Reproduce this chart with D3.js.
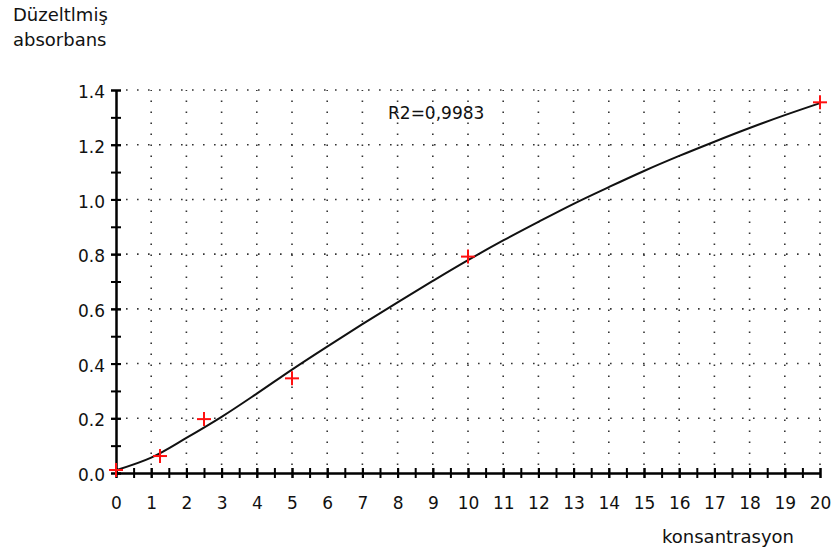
<!DOCTYPE html>
<html>
<head>
<meta charset="utf-8">
<script src="https://cdn.jsdelivr.net/npm/d3@7/dist/d3.min.js"></script>
<style>
  html, body { margin: 0; padding: 0; background: #fff; }
  svg { display: block; }
  text { font-family: "DejaVu Sans", Verdana, sans-serif; fill: #111; }
</style>
</head>
<body>
<svg id="chart" width="833" height="554"></svg>
<script>
// Calibration standards (concentration vs corrected absorbance)
const sampleConc = [0, 1.25, 2.5, 5, 10, 20];
const sampleAbs  = [0.011, 0.062, 0.197, 0.346, 0.791, 1.355];

// Fitted calibration curve, sampled at each integer concentration
const fitConc = [0, 1, 2, 3, 4, 5, 6, 7, 8, 9, 10, 11, 12, 13, 14, 15, 16, 17, 18, 19, 20];
const fitAbs  = [0.010, 0.056, 0.128, 0.205, 0.290, 0.378, 0.462, 0.544, 0.624, 0.702,
                 0.778, 0.850, 0.918, 0.984, 1.045, 1.104, 1.159, 1.211, 1.261, 1.308, 1.352];

const xTicks = d3.range(0, 21, 1);
const xMinorTicks = d3.range(0, 20.01, 0.5);
const yTicks = [0, 0.2, 0.4, 0.6, 0.8, 1.0, 1.2, 1.4];
const yMinorTicks = d3.range(0, 1.401, 0.1);

const yTitle = ["Düzeltlmiş", "absorbans"];
const xTitle = "konsantrasyon";
const r2Label = "R2=0,9983";

const svg = d3.select("#chart");
const x = d3.scaleLinear().domain([0, 20]).range([116, 820]);
const y = d3.scaleLinear().domain([0, 1.4]).range([473, 90]);

// dotted grid
const grid = svg.append("g").attr("stroke", "#333").attr("stroke-width", 1.6)
  .attr("stroke-dasharray", "1.6,9.4");
grid.selectAll("line.v").data(xTicks.filter(d => d > 0)).join("line")
  .attr("class", "v")
  .attr("x1", d => x(d)).attr("x2", d => x(d))
  .attr("y1", y(0) - 8).attr("y2", y(1.4));
grid.selectAll("line.h").data(yTicks.filter(d => d > 0)).join("line")
  .attr("class", "h")
  .attr("x1", x(0) + 10).attr("x2", x(20))
  .attr("y1", d => y(d)).attr("y2", d => y(d));

// axes
function styleAxis(g) {
  g.select(".domain").attr("stroke", "#000").attr("stroke-width", 2);
  g.selectAll(".tick line").attr("stroke", "#000").attr("stroke-width", 2);
  g.selectAll(".tick text").attr("font-size", 17).attr("fill", "#111")
    .style("font-family", "'DejaVu Sans', Verdana, sans-serif");
}

const xMinor = svg.append("g").attr("transform", `translate(0,${y(0)})`)
  .call(d3.axisBottom(x).tickValues(xMinorTicks).tickFormat("").tickSizeOuter(0).tickSizeInner(5));
xMinor.selectAll(".tick line").attr("y1", -5).attr("y2", 5);
styleAxis(xMinor);

const xAxis = svg.append("g").attr("transform", `translate(0,${y(0)})`)
  .call(d3.axisBottom(x).tickValues(xTicks).tickFormat(d3.format("d")).tickSizeOuter(0).tickSizeInner(5).tickPadding(19));
xAxis.selectAll(".tick line").attr("y1", -5).attr("y2", 5);
styleAxis(xAxis);

const yMinor = svg.append("g").attr("transform", `translate(${x(0)},0)`)
  .call(d3.axisLeft(y).tickValues(yMinorTicks).tickFormat("").tickSizeOuter(0).tickSizeInner(5));
yMinor.selectAll(".tick line").attr("x1", -5).attr("x2", 5);
styleAxis(yMinor);

const yAxis = svg.append("g").attr("transform", `translate(${x(0)},0)`)
  .call(d3.axisLeft(y).tickValues(yTicks).tickFormat(d3.format(".1f")).tickSizeOuter(0).tickSizeInner(5).tickPadding(6));
yAxis.selectAll(".tick line").attr("x1", -5).attr("x2", 5);
styleAxis(yAxis);
yAxis.selectAll(".tick text").attr("dy", "0.45em");

// fitted curve
const line = d3.line().x((d, i) => x(fitConc[i])).y(d => y(d)).curve(d3.curveCatmullRom);
svg.append("path").datum(fitAbs)
  .attr("d", line)
  .attr("fill", "none").attr("stroke", "#111").attr("stroke-width", 2);

// standards as red crosses
const pts = svg.append("g").attr("stroke", "#ff1010").attr("stroke-width", 2);
sampleConc.forEach((c, i) => {
  const cx = x(c), cy = y(sampleAbs[i]);
  pts.append("line").attr("x1", cx - 7).attr("x2", cx + 7).attr("y1", cy).attr("y2", cy);
  pts.append("line").attr("x1", cx).attr("x2", cx).attr("y1", cy - 7).attr("y2", cy + 7);
});

// labels
svg.append("text").attr("x", 388).attr("y", 119).attr("font-size", 17).text(r2Label);

svg.append("text").attr("x", 13).attr("y", 21).attr("font-size", 18)
  .selectAll("tspan").data(yTitle).join("tspan")
  .attr("x", 13).attr("dy", (d, i) => i === 0 ? 0 : 25).text(d => d);

svg.append("text").attr("x", 728).attr("y", 543).attr("font-size", 18)
  .attr("text-anchor", "middle").text(xTitle);
</script>
</body>
</html>
